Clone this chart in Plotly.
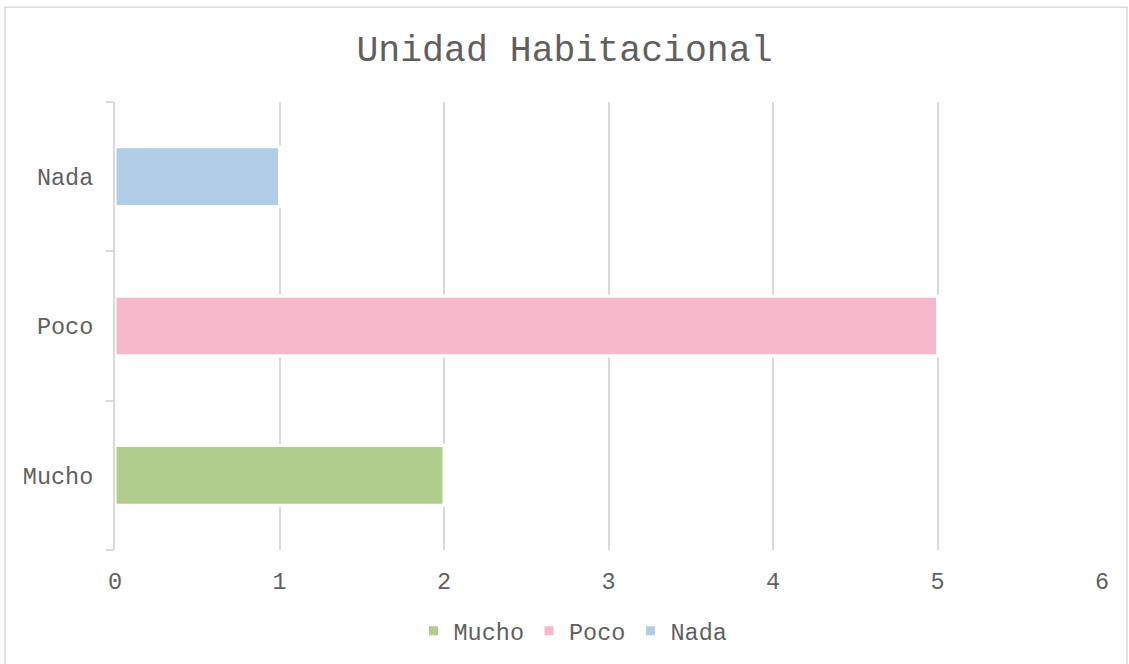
import plotly.graph_objects as go

categories = ["Mucho", "Poco", "Nada"]
values = [2, 5, 1]
colors = ["#b0cd8d", "#f7b8cc", "#b1cde5"]
x_ticks = [0, 1, 2, 3, 4, 5, 6]

FONT = "Liberation Mono, Courier New, monospace"
GRAY = "#5f5f5f"

fig = go.Figure()
for cat, val, col in zip(categories, values, colors):
    fig.add_trace(go.Bar(
        y=[cat], x=[val], name=cat, orientation="h",
        marker=dict(color=col, line=dict(color="white", width=3)),
        width=0.4,
    ))

W, H = 1129, 664
ml, mr, mt, mb = 115, 27, 102, 113
pw, ph = W - ml - mr, H - mt - mb

fig.update_layout(
    width=W, height=H,
    margin=dict(l=ml, r=mr, t=mt, b=mb),
    barmode="overlay",
    plot_bgcolor="white", paper_bgcolor="white",
    font=dict(family=FONT, color=GRAY, size=23.5),
    title=dict(text="Unidad Habitacional", x=0.5, xanchor="center",
               y=1 - 48 / H, yanchor="middle",
               font=dict(family=FONT, size=36.5, color=GRAY)),
    legend=dict(orientation="h", x=(573 - ml) / pw, xanchor="center",
                y=-(631 - (mt + ph)) / ph, yanchor="middle",
                font=dict(size=23.5, color=GRAY), itemwidth=30,
                traceorder="normal"),
    showlegend=True,
    xaxis=dict(range=[0, 6], tickvals=x_ticks, showgrid=True,
               gridcolor="#d9d9d9", gridwidth=2, zeroline=False,
               showline=False, ticks="", ticklabelstandoff=14,
               tickfont=dict(size=23.5, color=GRAY)),
    yaxis=dict(categoryorder="array", categoryarray=categories,
               range=[-0.5, 2.5], showgrid=False, zeroline=False,
               showline=True, linecolor="#d9d9d9", linewidth=2,
               ticks="outside", tickson="boundaries", ticklen=7,
               tickcolor="#d9d9d9", tickwidth=2, ticklabelstandoff=15,
               tickfont=dict(size=23.5, color=GRAY)),
    shapes=[dict(type="rect", xref="paper", yref="paper",
                 x0=(5 - ml) / pw, x1=(1127 - ml) / pw,
                 y0=-(H + 5 - mt - ph) / ph, y1=(mt + ph - 7) / ph,
                 line=dict(color="#d9d9d9", width=1.5), layer="below")],
)

fig.write_html("out.html", config={"displayModeBar": False},
               post_script="document.body.style.margin='0';")
